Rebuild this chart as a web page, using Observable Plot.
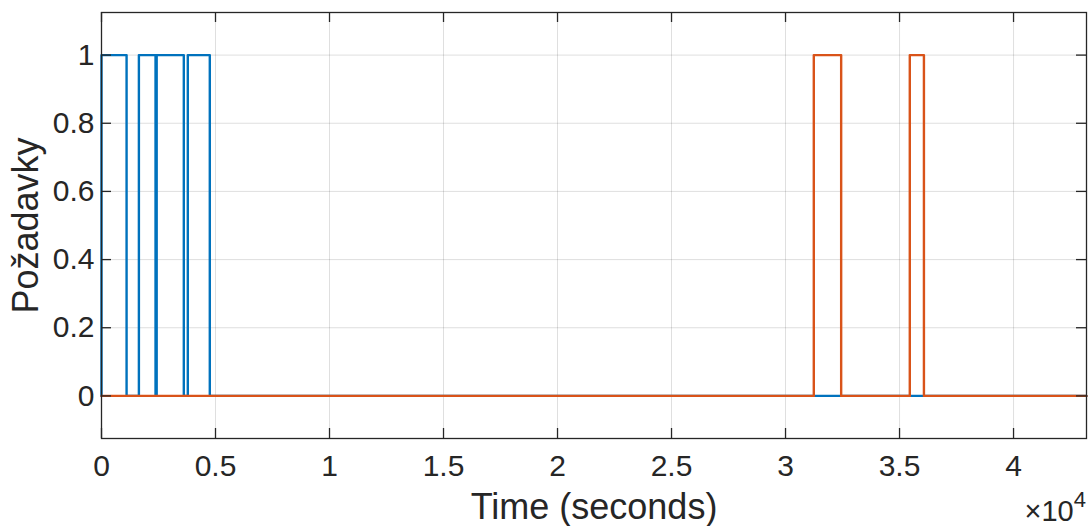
<!DOCTYPE html>
<html><head><meta charset="utf-8">
<script src="https://cdn.jsdelivr.net/npm/d3@7"></script>
<script src="https://cdn.jsdelivr.net/npm/@observablehq/plot@0.6"></script>
<style>body{margin:0;background:#fff}</style>
</head><body><div id="chart"></div>
<script>
// Step signals: times (s) at which the value changes, and the value held from that time on
const blueTimes = [0, 0, 1100, 1640, 2370, 2420, 3610, 3785, 4750, 43200];
const blueValues = [0, 1, 0, 1, 0, 1, 0, 1, 0, 0];
const orangeTimes = [0, 31240, 32440, 35450, 36070, 43200];
const orangeValues = [0, 1, 0, 1, 0, 0];
const xTicks = [0, 5000, 10000, 15000, 20000, 25000, 30000, 35000, 40000];
const yTicks = [0, 0.2, 0.4, 0.6, 0.8, 1];
const xDomain = [0, 43200];
const yDomain = [-0.125, 1.125];
const xLabel = "Time (seconds)";
const yLabel = "Požadavky";
const exponentBase = "×10";
const exponentPower = "4";

const blue = blueTimes.map((t, i) => ({t, v: blueValues[i]}));
const orange = orangeTimes.map((t, i) => ({t, v: orangeValues[i]}));

const W = 1091, H = 526;
const mL = 101, mR = 5, mT = 12, mB = 88;
const frameW = W - mL - mR, frameH = H - mT - mB;
const tickLen = 10;
const axisColor = "#262626";

const chart = Plot.plot({
  width: W, height: H,
  marginLeft: mL, marginRight: mR, marginTop: mT, marginBottom: mB,
  style: {fontFamily: "'Liberation Sans', Arial, Helvetica, sans-serif", color: axisColor, background: "#fff"},
  x: {domain: xDomain},
  y: {domain: yDomain},
  marks: [
    Plot.gridX({ticks: xTicks, stroke: axisColor, strokeOpacity: 0.15, strokeWidth: 1}),
    Plot.gridY({ticks: yTicks, stroke: axisColor, strokeOpacity: 0.15, strokeWidth: 1}),
    Plot.line(blue, {x: "t", y: "v", curve: "step-after", stroke: "#0072BD", strokeWidth: 2.4}),
    Plot.line(orange, {x: "t", y: "v", curve: "step-after", stroke: "#D95319", strokeWidth: 2.4}),
    // inward ticks on all four sides
    Plot.tickX(xTicks, {x: d => d, insetTop: frameH - tickLen, stroke: axisColor, strokeWidth: 1.3}),
    Plot.tickX(xTicks, {x: d => d, insetBottom: frameH - tickLen, stroke: axisColor, strokeWidth: 1.3}),
    Plot.tickY(yTicks, {y: d => d, insetRight: frameW - tickLen, stroke: axisColor, strokeWidth: 1.3}),
    Plot.tickY(yTicks, {y: d => d, insetLeft: frameW - tickLen, stroke: axisColor, strokeWidth: 1.3}),
    Plot.frame({stroke: axisColor, strokeWidth: 1.3}),
    Plot.axisX({ticks: xTicks, tickSize: 0, tickPadding: 16, tickFormat: d => String(d / 1e4), fontSize: 30,
      label: xLabel, labelAnchor: "center", labelOffset: 80, labelArrow: "none"}),
    Plot.axisY({ticks: yTicks, tickSize: 0, tickPadding: 7, tickFormat: d => String(d), fontSize: 30,
      label: yLabel, labelAnchor: "center", labelOffset: 89, labelArrow: "none"})
  ]
});

const svg = d3.select(chart);
svg.selectAll("[aria-label='x-axis label'] text, [aria-label='y-axis label'] text")
  .style("font-size", "36px");
const ex = svg.append("text")
  .attr("x", W - mR).attr("y", 521)
  .attr("text-anchor", "end")
  .attr("fill", axisColor)
  .style("font-family", "'Liberation Sans', Arial, sans-serif");
ex.append("tspan").style("font-size", "29px").text(exponentBase);
ex.append("tspan").style("font-size", "22px").attr("dy", -14).text(exponentPower);

document.getElementById("chart").appendChild(chart);
</script>
</body></html>
